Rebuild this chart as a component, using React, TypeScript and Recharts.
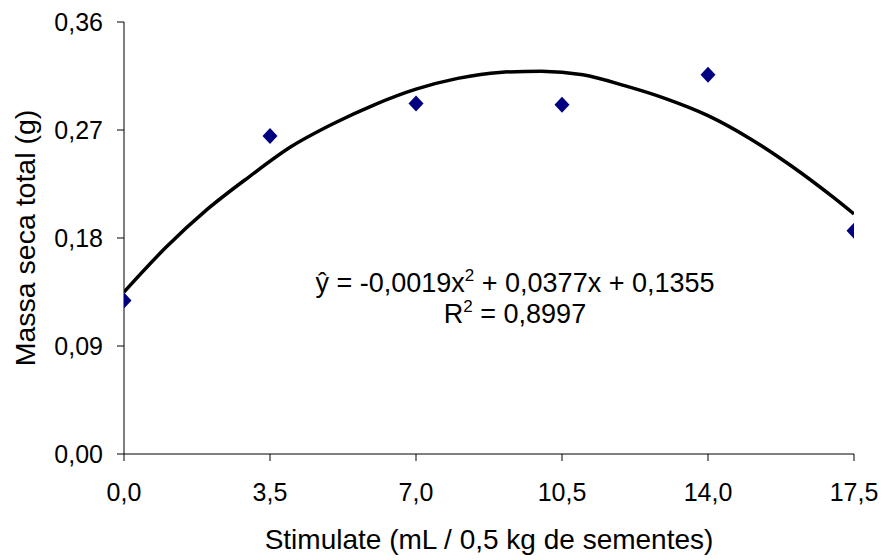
import React from 'react';
import { ComposedChart, Line, Scatter, XAxis, YAxis } from 'recharts';

// Observed means (Stimulate dose, mL / 0,5 kg de sementes)
const doses = [0, 3.5, 7.0, 10.5, 14.0, 17.5];
const massaSeca = [0.128, 0.265, 0.292, 0.291, 0.316, 0.186];

// Fitted trend curve
const curveDoses = [0, 1, 2, 3, 4, 5, 6, 7, 8, 9, 10, 11, 12, 13, 14, 15, 16, 17, 17.5];
const curveMassa = [0.135, 0.172, 0.204, 0.231, 0.256, 0.275, 0.291, 0.304, 0.313, 0.318, 0.319, 0.316, 0.307, 0.296, 0.282, 0.263, 0.24, 0.214, 0.2];

const xTicks = [0, 3.5, 7.0, 10.5, 14.0, 17.5];
const yTicks = [0, 0.09, 0.18, 0.27, 0.36];

const xTitle = 'Stimulate (mL / 0,5 kg de sementes)';
const yTitle = 'Massa seca total (g)';

const FONT = '"Liberation Sans", Arial, sans-serif';

const pointData = doses.map((x, i) => ({ x, y: massaSeca[i] }));
const curveData = curveDoses.map((x, i) => ({ x, y: curveMassa[i] }));

const Diamond = (props: any) => {
  const { cx, cy } = props;
  return (
    <path
      d={`M${cx},${cy - 8}L${cx + 7.5},${cy}L${cx},${cy + 8}L${cx - 7.5},${cy}Z`}
      fill="#000080"
    />
  );
};

const supStyle: React.CSSProperties = { fontSize: 17, verticalAlign: 'top', lineHeight: '17px', position: 'relative', top: -1 };

export default function App() {
  return (
    <div style={{ position: 'absolute', left: 0, top: 0, width: 888, height: 560, background: '#fff', fontFamily: FONT }}>
      <ComposedChart
        width={888}
        height={560}
        margin={{ top: 22, right: 34, bottom: 0, left: 0 }}
      >
        <XAxis
          type="number"
          dataKey="x"
          domain={[0, 17.5]}
          ticks={xTicks}
          allowDataOverflow
          height={106}
          tickSize={7}
          tickMargin={22}
          stroke="#000"
          tick={{ fill: '#000', fontSize: 25, fontFamily: FONT }}
          tickFormatter={(v: number) => v.toFixed(1).replace('.', ',')}
          label={{
            content: ({ viewBox }: any) => (
              <text
                x={viewBox.x + viewBox.width / 2}
                y={549}
                textAnchor="middle"
                fontSize={28}
                fontFamily={FONT}
                fill="#000"
              >
                {xTitle}
              </text>
            ),
          }}
        />
        <YAxis
          type="number"
          dataKey="y"
          domain={[0, 0.36]}
          ticks={yTicks}
          allowDataOverflow
          width={124}
          tickSize={7}
          tickMargin={14}
          stroke="#000"
          tick={{ fill: '#000', fontSize: 25, fontFamily: FONT }}
          tickFormatter={(v: number) => v.toFixed(2).replace('.', ',')}
          label={{
            content: ({ viewBox }: any) => {
              const cx = 25;
              const cy = viewBox.y + viewBox.height / 2;
              return (
                <text
                  x={cx}
                  y={cy}
                  transform={`rotate(-90, ${cx}, ${cy})`}
                  textAnchor="middle"
                  dominantBaseline="central"
                  fontSize={28.5}
                  fontFamily={FONT}
                  fill="#000"
                >
                  {yTitle}
                </text>
              );
            },
          }}
        />
        <Line
          data={curveData}
          dataKey="y"
          type="monotone"
          stroke="#000"
          strokeWidth={3.5}
          dot={false}
          activeDot={false}
          isAnimationActive={false}
        />
        <Scatter
          data={pointData}
          dataKey="y"
          shape={<Diamond />}
          isAnimationActive={false}
        />
      </ComposedChart>
      <div
        style={{
          position: 'absolute',
          left: 265,
          top: 268,
          width: 500,
          textAlign: 'center',
          fontSize: 27,
          lineHeight: '31px',
          color: '#000',
          whiteSpace: 'nowrap',
        }}
      >
        <div>
          ŷ = -0,0019x<sup style={supStyle}>2</sup> + 0,0377x + 0,1355
        </div>
        <div>
          R<sup style={supStyle}>2</sup> = 0,8997
        </div>
      </div>
    </div>
  );
}
